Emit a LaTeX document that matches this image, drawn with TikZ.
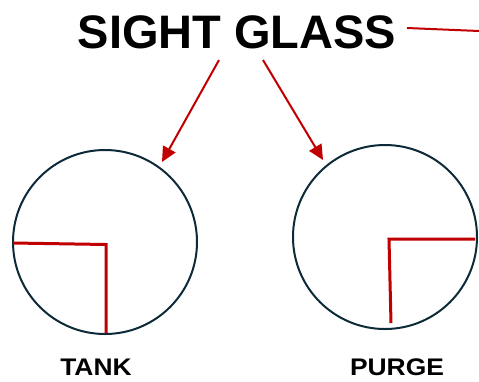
\documentclass[tikz,border=0pt]{standalone}
\usepackage{fontspec}
\setmainfont{Liberation Sans}
\newfontfamily\labelfont[FakeStretch=1.1]{Liberation Sans}
\usetikzlibrary{arrows.meta}
\definecolor{glassred}{HTML}{C00000}
\definecolor{glassrim}{HTML}{0D2A38}
\begin{document}
\begin{tikzpicture}[x=1pt,y=-1pt,
  glass/.style={circle,draw=glassrim,line width=2pt,minimum size=184pt,inner sep=0pt},
  level/.style={draw=glassred,line width=3pt},
  pointer/.style={draw=glassred,line width=2pt,-{Triangle[length=15pt,width=14pt]}},
  title/.style={font=\bfseries\fontsize{47}{47}\selectfont,inner sep=0pt,anchor=base},
  label/.style={font=\labelfont\bfseries\fontsize{24}{24}\selectfont,inner sep=0pt,anchor=base}]
\useasboundingbox (0,0) rectangle (479,381);
\node[title] (sg) at (237,48) {SIGHT GLASS};
\node[glass] (tank) at (105,242) {};
\node[glass] (purge) at (385,237) {};
\node[label] (tanklbl) at (96,375) {TANK};
\node[label] (purgelbl) at (397,375) {PURGE};
% pointers
\coordinate (p1s) at (219,60);
\coordinate (p1e) at (162,162);
\coordinate (p2s) at (263,60);
\coordinate (p2e) at (323,160);
\draw[pointer] (p1s) -- (p1e);
\draw[pointer] (p2s) -- (p2e);
% line leaving the title
\coordinate (ls) at (407,28);
\coordinate (le) at (479,31);
\draw[draw=glassred,line width=2pt] (ls) -- (le);
% levels
\draw[level] (13,243) -- (106,244.5) -- (106,333);
\draw[level] (475,239) -- (389,239) -- (391,323);
\end{tikzpicture}
\end{document}
